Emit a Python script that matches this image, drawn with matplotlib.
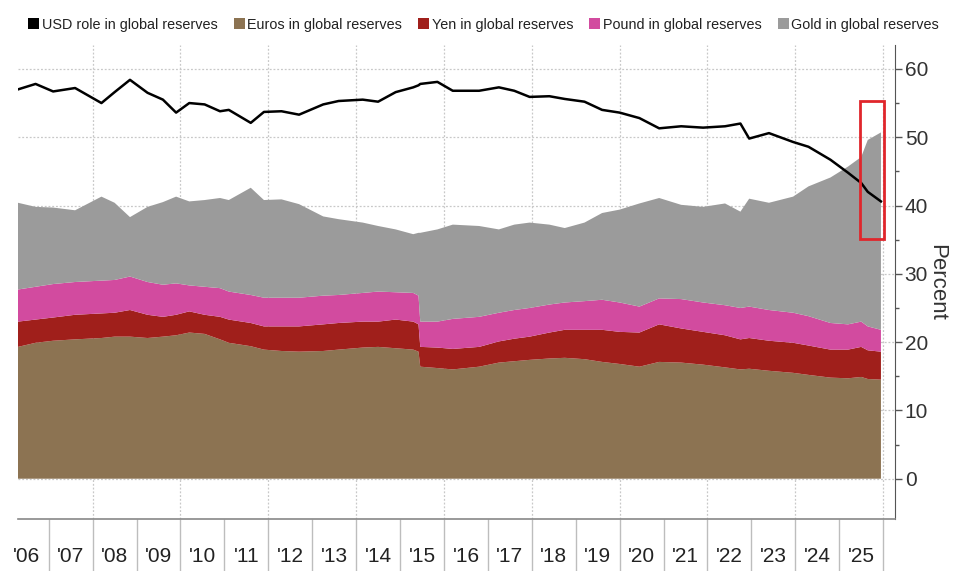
import numpy as np
import matplotlib
matplotlib.use("Agg")
import matplotlib.pyplot as plt
from matplotlib.patches import Patch, Rectangle

# Data (decimal years)
dates = [2006.3, 2006.7, 2007.1, 2007.6, 2008.2, 2008.5, 2008.85, 2009.25, 2009.6, 2009.9,
         2010.2, 2010.55, 2010.9, 2011.1, 2011.6, 2011.9, 2012.3, 2012.7, 2013.25, 2013.6,
         2014.15, 2014.5, 2014.9, 2015.3, 2015.42, 2015.46, 2015.85, 2016.2, 2016.8, 2017.25,
         2017.6, 2017.95, 2018.4, 2018.75, 2019.2, 2019.6, 2020.0, 2020.45, 2020.9, 2021.4,
         2021.9, 2022.4, 2022.75, 2022.95, 2023.4, 2023.95, 2024.3, 2024.8, 2025.2, 2025.5,
         2025.65, 2025.95]

usd = [57.0, 57.8, 56.7, 57.2, 55.0, 56.6, 58.4, 56.5, 55.5, 53.6,
       55.0, 54.8, 53.8, 54.0, 52.1, 53.7, 53.8, 53.3, 54.8, 55.3,
       55.5, 55.2, 56.6, 57.3, 57.6, 57.8, 58.1, 56.8, 56.8, 57.3,
       56.8, 55.9, 56.0, 55.6, 55.2, 54.0, 53.6, 52.8, 51.3, 51.6,
       51.4, 51.6, 52.0, 49.8, 50.6, 49.3, 48.6, 46.7, 44.8, 43.3,
       42.0, 40.6]

# top edge of each stacked band
euro_top = [19.3, 19.9, 20.2, 20.4, 20.6, 20.8, 20.8, 20.6, 20.8, 21.0,
            21.4, 21.2, 20.4, 19.9, 19.4, 18.9, 18.7, 18.6, 18.7, 18.9,
            19.2, 19.3, 19.1, 18.9, 18.6, 16.4, 16.2, 16.0, 16.4, 17.0,
            17.2, 17.4, 17.6, 17.7, 17.5, 17.1, 16.8, 16.4, 17.1, 17.0,
            16.7, 16.3, 16.0, 16.1, 15.8, 15.5, 15.2, 14.8, 14.7, 14.9,
            14.6, 14.5]
yen_top = [23.0, 23.3, 23.6, 24.0, 24.2, 24.3, 24.7, 24.0, 23.7, 24.0,
           24.5, 24.0, 23.7, 23.3, 22.8, 22.3, 22.3, 22.3, 22.6, 22.8,
           23.0, 23.0, 23.3, 23.0, 22.6, 19.3, 19.2, 19.0, 19.3, 20.1,
           20.5, 20.8, 21.4, 21.8, 21.8, 21.8, 21.5, 21.4, 22.6, 22.0,
           21.5, 21.0, 20.4, 20.6, 20.2, 19.9, 19.5, 18.9, 18.9, 19.3,
           18.8, 18.6]
pound_top = [27.7, 28.1, 28.5, 28.8, 29.0, 29.1, 29.6, 28.8, 28.4, 28.6,
             28.3, 28.1, 27.9, 27.4, 26.9, 26.5, 26.5, 26.5, 26.8, 26.9,
             27.2, 27.4, 27.3, 27.2, 26.8, 23.0, 23.0, 23.4, 23.7, 24.3,
             24.7, 25.0, 25.5, 25.8, 26.0, 26.2, 25.8, 25.2, 26.4, 26.3,
             25.8, 25.4, 25.0, 25.2, 24.7, 24.3, 23.8, 22.8, 22.6, 23.0,
             22.3, 21.8]
gold_top = [40.4, 39.8, 39.7, 39.3, 41.3, 40.4, 38.3, 39.8, 40.5, 41.3,
            40.6, 40.8, 41.1, 40.8, 42.6, 40.8, 40.9, 40.2, 38.4, 38.0,
            37.5, 37.0, 36.5, 35.8, 36.0, 36.0, 36.5, 37.2, 37.0, 36.5,
            37.2, 37.5, 37.2, 36.7, 37.5, 38.9, 39.4, 40.3, 41.1, 40.1,
            39.8, 40.3, 39.1, 41.0, 40.4, 41.3, 42.8, 44.1, 45.7, 47.1,
            49.6, 50.7]

labels = ["USD role in global reserves", "Euros in global reserves", "Yen in global reserves",
          "Pound in global reserves", "Gold in global reserves"]
colors = ["#000000", "#8c7352", "#a01f1b", "#d24b9f", "#9b9b9b"]
year_labels = ["'%02d" % (y % 100) for y in range(2006, 2026)]

x = np.array(dates)
tops = np.array([euro_top, yen_top, pound_top, gold_top])
shares = np.vstack([tops[0], np.diff(tops, axis=0)])

plt.rcParams['font.family'] = ['Liberation Sans', 'DejaVu Sans']

fig = plt.figure(figsize=(9.61, 5.71), dpi=100)
ax = fig.add_axes([18 / 961, 1 - 519 / 571, 877 / 961, 474 / 571])

ax.stackplot(x, shares, colors=colors[1:], linewidth=0, zorder=2)
ax.plot(x, usd, color="black", lw=1.8, zorder=3)

# highlight box
ax.add_patch(Rectangle((2025.48, 35.1), 0.54, 20.2, fill=False, edgecolor="#e0262b",
                       lw=2, zorder=4, clip_on=False))

ax.set_xlim(2006.3, 2026.27)
ax.set_ylim(-5.9, 63.5)

# right axis
ax.yaxis.tick_right()
ax.yaxis.set_label_position("right")
ax.set_yticks(range(0, 61, 10))
ax.set_yticks(range(5, 61, 10), minor=True)
ax.tick_params(axis="y", which="major", length=5, width=1, color="#555555",
               labelsize=15, labelcolor="#333333", pad=2)
ax.tick_params(axis="y", which="minor", length=3, width=1, color="#555555")
ax.set_ylabel("Percent", fontsize=16, color="#333333", rotation=270, labelpad=14)

# x axis: year separators and mid-year labels
ax.set_xticks(range(2007, 2027))
ax.set_xticklabels([])
ax.set_xticks(np.arange(2006.5, 2026, 1.0), minor=True)
ax.set_xticklabels(year_labels, minor=True)
ax.tick_params(axis="x", which="major", length=52, width=1, color="#bdbdbd", direction="out")
ax.tick_params(axis="x", which="minor", length=0, labelsize=15, labelcolor="#222222", pad=20)

# grids
for yv in range(0, 61, 10):
    ax.axhline(yv, color="#c8c8c8", lw=0.9, ls=(0, (1.5, 1.5)), zorder=1)
for xv in range(2008, 2027, 2):
    ax.axvline(xv, color="#c8c8c8", lw=0.9, ls=(0, (1.5, 1.5)), zorder=1)

for side in ["left", "top"]:
    ax.spines[side].set_visible(False)
ax.spines["right"].set_color("#555555")
ax.spines["bottom"].set_color("#888888")
ax.spines["bottom"].set_linewidth(1.2)

handles = [Patch(facecolor=c, edgecolor="none") for c in colors]
fig.legend(handles, labels, loc="upper left", bbox_to_anchor=(0.016, 0.992), ncol=5,
           frameon=False, fontsize=10.4, handlelength=0.75, handleheight=0.75,
           handletextpad=0.2, columnspacing=1.1, labelcolor="#222222")

fig.savefig("out.png", dpi=100)
